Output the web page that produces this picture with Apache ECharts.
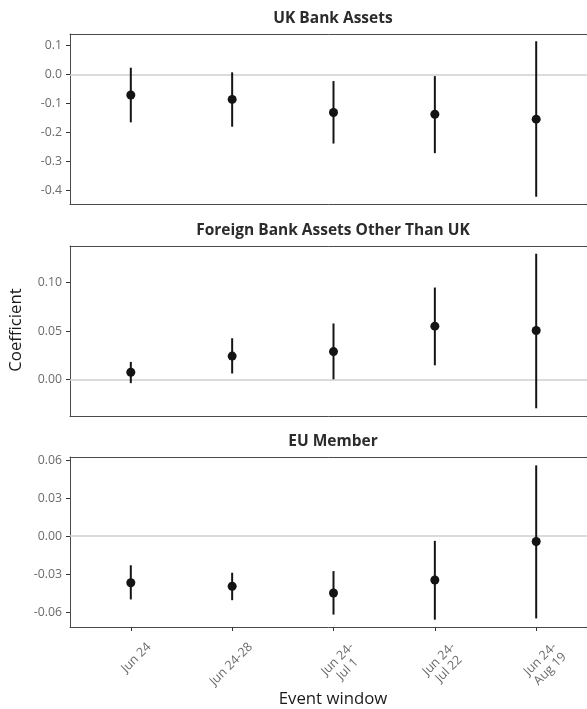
<!DOCTYPE html>
<html>
<head>
<meta charset="utf-8">
<script src="https://cdn.jsdelivr.net/npm/echarts@6/dist/echarts.min.js"></script>
<style>
  html, body { margin: 0; padding: 0; background: #fff; }
  #chart { width: 587px; height: 709px; }
</style>
</head>
<body>
<div id="chart"></div>
<script>
// ---- data ----
const categories = ['Jun 24', 'Jun 24-28', 'Jun 24-\nJul 1', 'Jun 24-\nJul 22', 'Jun 24-\nAug 19'];
const panelTitles = ['UK Bank Assets', 'Foreign Bank Assets Other Than UK', 'EU Member'];

const ukCoef = [-0.071, -0.086, -0.131, -0.137, -0.154];
const ukLow  = [-0.165, -0.180, -0.238, -0.271, -0.421];
const ukHigh = [0.023, 0.007, -0.023, -0.006, 0.114];

const foreignCoef = [0.0073, 0.024, 0.0287, 0.055, 0.0505];
const foreignLow  = [-0.004, 0.006, 0.000, 0.0145, -0.030];
const foreignHigh = [0.018, 0.0425, 0.0578, 0.095, 0.130];

const euCoef = [-0.0368, -0.0396, -0.0449, -0.0346, -0.0042];
const euLow  = [-0.050, -0.0506, -0.062, -0.066, -0.065];
const euHigh = [-0.023, -0.0289, -0.0276, -0.0037, 0.056];

const ukTicks = [-0.4, -0.3, -0.2, -0.1, 0, 0.1];
const foreignTicks = [0, 0.05, 0.10];
const euTicks = [-0.06, -0.03, 0, 0.03, 0.06];

// ---- layout ----
const FONT = 'Open Sans';
const TICK_FS = 12.3;
const XLAB_FS = 12.5;
const BORDER = '#4a4a4a';
const panels = [
  { coef: ukCoef, low: ukLow, high: ukHigh, ticks: ukTicks, dec: 1, min: -0.446, max: 0.139, top: 34, titleY: 18.5 },
  { coef: foreignCoef, low: foreignLow, high: foreignHigh, ticks: foreignTicks, dec: 2, min: -0.038, max: 0.138, top: 246, titleY: 230.7 },
  { coef: euCoef, low: euLow, high: euHigh, ticks: euTicks, dec: 2, min: -0.0718, max: 0.0626, top: 457, titleY: 441.7 }
];
const positions = categories.map((c, i) => i + 1);
const GRID_LEFT = 70, GRID_W = 527, GRID_H = 170;

const measureCtx = document.createElement('canvas').getContext('2d');
function textWidth(t) {
  measureCtx.font = XLAB_FS + 'px "' + FONT + '"';
  return measureCtx.measureText(t).width;
}

const chart = echarts.init(document.getElementById('chart'), null, { renderer: 'canvas' });

const grid = [], xAxis = [], yAxis = [], series = [], graphic = [];
panels.forEach((p, k) => {
  grid.push({ left: GRID_LEFT, top: p.top, width: GRID_W, height: GRID_H, show: false,
    containLabel: false, outerBoundsMode: 'none' });
  const last = k === panels.length - 1;
  // bottom x axis (frame bottom edge + ticks on last panel)
  xAxis.push({
    type: 'value', gridIndex: k, min: 0.4, max: 5.6, position: 'bottom',
    axisLine: { show: true, onZero: false, lineStyle: { color: BORDER, width: 1 } },
    splitLine: { show: false },
    axisTick: { show: last, customValues: positions, length: 4, lineStyle: { color: '#333', width: 1 } },
    axisLabel: { show: false, customValues: positions }
  });
  yAxis.push({
    type: 'value', gridIndex: k, min: p.min, max: p.max,
    axisLine: { show: true, onZero: false, lineStyle: { color: BORDER, width: 1 } },
    splitLine: { show: false },
    axisTick: { show: true, customValues: p.ticks, length: 4, lineStyle: { color: '#333', width: 1 } },
    axisLabel: {
      customValues: p.ticks, color: '#6b6b6b', fontFamily: FONT, fontSize: TICK_FS, margin: 8,
      formatter: v => v.toFixed(p.dec)
    }
  });
  graphic.push({
    type: 'text', x: GRID_LEFT + 263, y: p.titleY,
    style: { text: panelTitles[k], fontFamily: FONT, fontSize: 15.5, fontWeight: 'bold', fill: '#2b2b2b',
      align: 'center', verticalAlign: 'middle' }
  });
  // error bars
  series.push({
    type: 'custom', xAxisIndex: k, yAxisIndex: k, silent: true,
    data: positions.map((x, i) => [x, p.low[i], p.high[i]]),
    encode: { x: 0, y: [1, 2] },
    renderItem: (params, api) => {
      const a = api.coord([api.value(0), api.value(1)]);
      const b = api.coord([api.value(0), api.value(2)]);
      return { type: 'line', shape: { x1: a[0], y1: a[1], x2: b[0], y2: b[1] },
        style: { stroke: '#141414', lineWidth: 2 } };
    },
    z: 3
  });
  // point estimates
  series.push({
    type: 'scatter', xAxisIndex: k, yAxisIndex: k, silent: true,
    data: positions.map((x, i) => [x, p.coef[i]]),
    symbol: 'circle', symbolSize: 9,
    itemStyle: { color: '#141414', opacity: 1 },
    z: 4,
    markLine: {
      silent: true, symbol: 'none', label: { show: false }, animation: false,
      lineStyle: { color: '#cfcfcf', width: 1.5, type: 'solid' },
      data: [{ yAxis: 0 }], z: 1
    }
  });
  // rotated category labels under the bottom panel
  if (last) {
    series.push({
      type: 'custom', xAxisIndex: k, yAxisIndex: k, silent: true, clip: false,
      data: positions.map(x => [x, p.min]),
      encode: { x: 0, y: 1 },
      renderItem: (params, api) => {
        const c = api.coord([api.value(0), api.value(1)]);
        const text = categories[params.dataIndex];
        const W = Math.max.apply(null, text.split('\n').map(textWidth));
        return {
          type: 'group', x: c[0] + 13.4, y: c[1] + 13, rotation: Math.PI / 4,
          children: [{
            type: 'text', x: -W / 2, y: 0,
            style: { text, align: 'center', verticalAlign: 'top', fontFamily: FONT,
              fontSize: XLAB_FS, lineHeight: 14, fill: '#6b6b6b' }
          }]
        };
      },
      z: 5
    });
  }
});
// top frame edges
panels.forEach((p, k) => {
  xAxis.push({
    type: 'value', gridIndex: k, min: 0.4, max: 5.6, position: 'top',
    axisLine: { show: true, onZero: false, lineStyle: { color: BORDER, width: 1 } },
    axisTick: { show: false }, axisLabel: { show: false }, splitLine: { show: false }
  });
});

graphic.push(
  { type: 'text', x: 333, y: 699,
    style: { text: 'Event window', fontFamily: FONT, fontSize: 16.8, fill: '#1a1a1a',
      align: 'center', verticalAlign: 'middle' } },
  { type: 'text', x: 16.5, y: 330, rotation: Math.PI / 2,
    style: { text: 'Coefficient', fontFamily: FONT, fontSize: 16.8, fill: '#1a1a1a',
      align: 'center', verticalAlign: 'middle' } }
);

chart.setOption({
  animation: false,
  backgroundColor: '#fff',
  grid, xAxis, yAxis, series, graphic
});
</script>
</body>
</html>
